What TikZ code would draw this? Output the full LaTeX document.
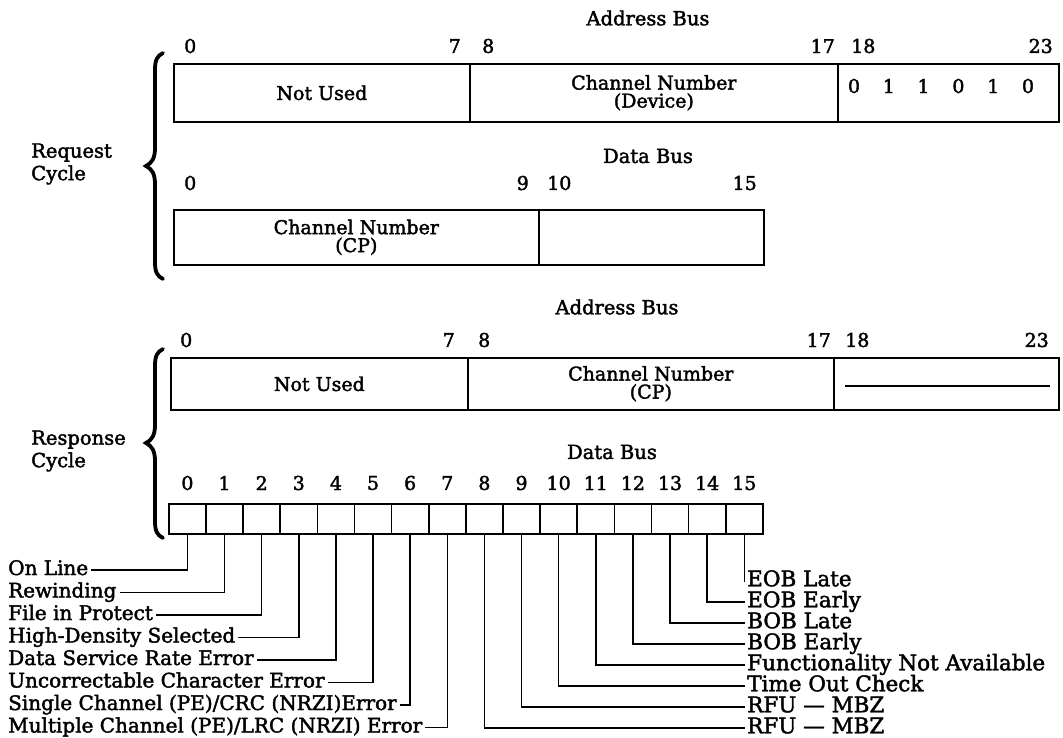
\documentclass[tikz,border=0pt]{standalone}
\usepackage{fontspec}
\setmainfont{DejaVu Serif}[FakeBold=2]
\begin{document}
\begin{tikzpicture}[x=1pt,y=-1pt,
  cell/.style={draw,line width=1.7pt,inner sep=0pt,anchor=north west,align=center,font=\fontsize{19}{18}\selectfont},
  num/.style={inner sep=0pt,font=\fontsize{19}{19}\selectfont},
  head/.style={inner sep=0pt,align=left,font=\fontsize{19.5}{22.5}\selectfont},
  lab/.style={inner ysep=1pt,inner xsep=3pt,font=\fontsize{20}{20}\selectfont,text height=14pt,text depth=4pt},
  rlab/.style={inner ysep=1pt,inner xsep=2pt,font=\fontsize{21.5}{21.5}\selectfont,text height=15pt,text depth=4.5pt},
  lead/.style={line width=1.5pt},
  bracepath/.style={line width=3.8pt,line cap=round}
]
\useasboundingbox (0,0) rectangle (1063,737);

% heading, cut off by the top edge as in the reference
\node[inner sep=0pt,anchor=base west,font=\fontsize{26}{26}\selectfont\bfseries] (fmt) at (28,-7) {Format};

% ---------- Request cycle ----------
\node[head] (ab1) at (648,18) {Address Bus};
\node[num,anchor=west] (n0) at (184,46) {0};
\node[num,anchor=east] (n7) at (461,46) {7};
\node[num,anchor=west] (n8) at (482,46) {8};
\node[num,anchor=east] (n17) at (835,46) {17};
\node[num,anchor=west] (n18) at (851,46) {18};
\node[num,anchor=east] (n23) at (1053,46) {23};

\node[cell,minimum width=296pt,minimum height=58pt] (a1) at (173,63) {Not Used};
\node[cell,minimum width=368pt,minimum height=58pt] (a2) at (469,63) {Channel Number\\(Device)};
\node[cell,minimum width=221pt,minimum height=58pt] (a3) at (837,63) {};
\foreach \b [count=\i from 0] in {0,1,1,0,1,0}
  \node[num] (ab\i) at (854+34.8*\i,86) {\b};

\node[head] (db1) at (648,156) {Data Bus};
\node[num,anchor=west] (m0) at (184,183) {0};
\node[num,anchor=east] (m9) at (529,183) {9};
\node[num,anchor=west] (m10) at (547,183) {10};
\node[num,anchor=east] (m15) at (757,183) {15};

\node[cell,minimum width=365pt,minimum height=55pt] (b1) at (173,209) {Channel Number\\(CP)};
\node[cell,minimum width=225pt,minimum height=55pt] (b2) at (538,209) {};

\draw[bracepath] (163,53) .. controls (157,56) and (155,60) .. (155,70) -- (155,148)
  .. controls (155,158) and (152,163) .. (146,166)
  .. controls (152,169) and (155,174) .. (155,184) -- (155,262)
  .. controls (155,272) and (157,276) .. (163,279);
\node[head,anchor=west] (rq) at (31,164) {Request\\Cycle};

% ---------- Response cycle ----------
\node[head] (ab2) at (617,307) {Address Bus};
\node[num,anchor=west] (p0) at (180,340) {0};
\node[num,anchor=east] (p7) at (455,340) {7};
\node[num,anchor=west] (p8) at (478,340) {8};
\node[num,anchor=east] (p17) at (831,340) {17};
\node[num,anchor=west] (p18) at (845,340) {18};
\node[num,anchor=east] (p23) at (1049,340) {23};

\node[cell,minimum width=297pt,minimum height=52pt] (c1) at (170,357) {Not Used};
\node[cell,minimum width=366pt,minimum height=52pt] (c2) at (467,357) {Channel Number\\(CP)};
\node[cell,minimum width=225pt,minimum height=52pt] (c3) at (833,357) {};
\draw[line width=1.8pt] ([xshift=12pt,yshift=-2pt]c3.west) -- ([xshift=-10pt,yshift=-2pt]c3.east);

\node[head] (db2) at (612,452) {Data Bus};
\foreach \k in {0,...,15}{
  \node[cell,minimum width=37.125pt,minimum height=30pt] (d\k) at (168+37.125*\k,503) {};
  \node[num] (dn\k) at ([yshift=20pt]d\k.north) {\k};
}

\draw[bracepath] (163,349) .. controls (157,352) and (155,356) .. (155,366) -- (155,425)
  .. controls (155,435) and (152,440) .. (146,443)
  .. controls (152,446) and (155,451) .. (155,461) -- (155,521)
  .. controls (155,531) and (157,535) .. (163,538);
\node[head,anchor=west] (rs) at (31,451) {Response\\Cycle};

% ---------- bit labels ----------
\foreach \t [count=\i from 0] in {On Line,Rewinding,File in Protect,High-Density Selected,Data Service Rate Error,Uncorrectable Character Error,Single Channel (PE)/CRC (NRZI)Error,Multiple Channel (PE)/LRC (NRZI) Error}{
  \node[lab,anchor=west] (L\i) at (5,570+22.5*\i) {\t};
  \draw[lead] (L\i.east) -| (d\i.south);
}
\foreach \t/\k [count=\j from 0] in {EOB Late/15,EOB Early/14,BOB Late/13,BOB Early/12,Functionality Not Available/11,Time Out Check/10,RFU — MBZ/9,RFU — MBZ/8}{
  \node[rlab,anchor=west] (R\j) at (745,581+21*\j) {\t};
  \draw[lead] (d\k.south) |- (R\j.west);
}
\end{tikzpicture}
\end{document}
